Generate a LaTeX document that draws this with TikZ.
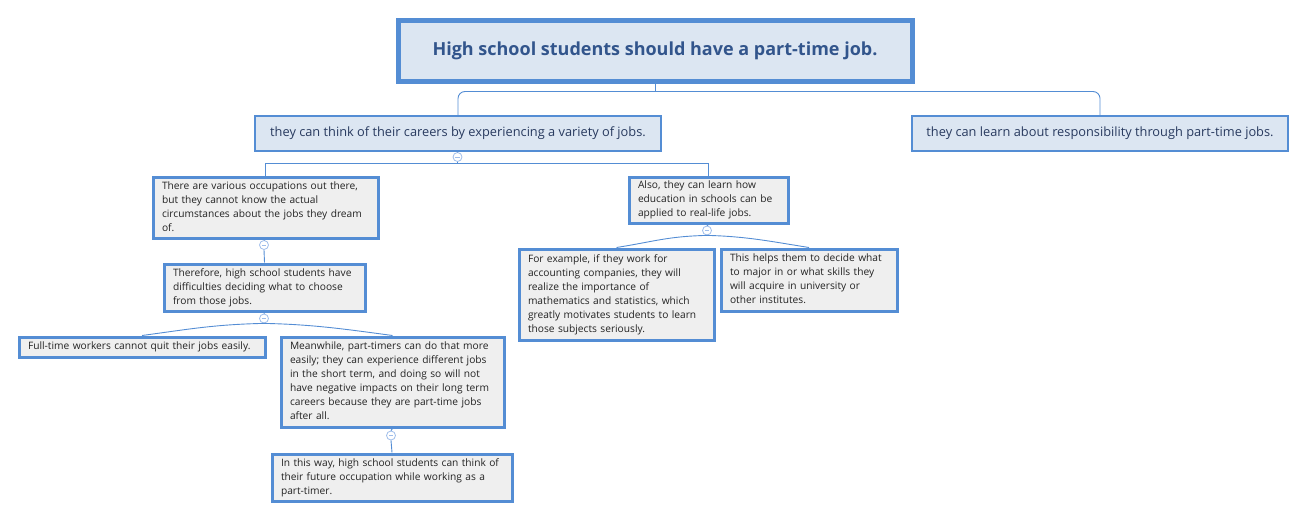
\documentclass[tikz,border=0pt]{standalone}
\usepackage{fontspec}
\setmainfont{Open Sans}
\definecolor{bblue}{RGB}{84,141,212}
\definecolor{lblue}{RGB}{220,230,242}
\definecolor{gfill}{RGB}{239,239,239}
\definecolor{roottext}{RGB}{50,85,140}
\definecolor{subtext}{RGB}{40,58,95}
\definecolor{gtext}{RGB}{35,35,35}
\definecolor{cblue}{RGB}{160,190,235}
\newcommand\mylines[1]{\begin{tabular}{@{}l@{}}#1\end{tabular}}
\begin{document}
\begin{tikzpicture}[x=1pt,y=-1pt,
  rootbox/.style={draw=bblue, line width=5pt, fill=lblue, anchor=north west, inner sep=0pt, align=center,
    text=roottext, font=\fontsize{18}{22}\selectfont\bfseries},
  subbox/.style={draw=bblue, line width=2pt, fill=lblue, anchor=north west, inner sep=0pt, align=center,
    text=subtext, font=\fontsize{12.8}{16}\selectfont},
  gbox/.style={draw=bblue, line width=3pt, fill=gfill, anchor=north west, inner xsep=9pt, inner ysep=0pt,
    align=left, text=gtext, font=\fontsize{10.2}{14}\selectfont},
  conn/.style={draw=bblue, line width=0.9pt},
  fold/.style={circle, draw=cblue, fill=white, line width=0.8pt, minimum size=9pt, inner sep=0pt,
    path picture={\draw[cblue, line width=0.8pt] ([xshift=-2.2pt]path picture bounding box.center) -- ([xshift=2.2pt]path picture bounding box.center);}}
]
\useasboundingbox (0,0) rectangle (1305,519);

% root and first level
\node[rootbox, minimum width=514, minimum height=60] (root) at (395.5,18.5) {High school students should have a part-time job.};
\node[subbox, minimum width=406, minimum height=35] (c1) at (254,115) {they can think of their careers by experiencing a variety of jobs.};
\node[subbox, minimum width=376, minimum height=35] (c2) at (911,115) {they can learn about responsibility through part-time jobs.};

% second level
\node[gbox, minimum width=225, minimum height=61, text width=207] (A) at (151.5,175.5)
  {\mylines{There are various occupations out there,\\but they cannot know the actual\\circumstances about the jobs they dream\\of.}};
\node[gbox, minimum width=159, minimum height=46, text width=141] (B) at (627.5,175.5)
  {\mylines{Also, they can learn how\\education in schools can be\\applied to real-life jobs.}};

% third level
\node[gbox, minimum width=201, minimum height=47, text width=183] (C) at (162.5,262.5)
  {\mylines{Therefore, high school students have\\difficulties deciding what to choose\\from those jobs.}};
\node[gbox, minimum width=195, minimum height=91, text width=177] (G) at (517.5,247.5)
  {\mylines{For example, if they work for\\accounting companies, they will\\realize the importance of\\mathematics and statistics, which\\greatly motivates students to learn\\those subjects seriously.}};
\node[gbox, minimum width=176, minimum height=62, text width=158] (H) at (719.5,247.5)
  {\mylines{This helps them to decide what\\to major in or what skills they\\will acquire in university or\\other institutes.}};

% fourth level
\node[gbox, minimum width=246, minimum height=20, text width=228] (D) at (17.5,335.5)
  {\mylines{Full-time workers cannot quit their jobs easily.}};
\node[gbox, minimum width=223, minimum height=90, text width=205] (E) at (279.5,335.5)
  {\mylines{Meanwhile, part-timers can do that more\\easily; they can experience different jobs\\in the short term, and doing so will not\\have negative impacts on their long term\\careers because they are part-time jobs\\after all.}};
\node[gbox, minimum width=240, minimum height=47, text width=222] (F) at (270.5,452.5)
  {\mylines{In this way, high school students can think of\\their future occupation while working as a\\part-timer.}};

% root connectors
\coordinate (j0) at ([yshift=-8pt]root.south);
\draw[conn] (root.south) -- (j0);
\draw[conn, rounded corners=7pt] (j0) -| (c1.north);
\draw[conn, rounded corners=7pt] (j0) -| (c2.north);

% c1 -> A, B
\node[fold] (f1) at (457.5,157) {};
\coordinate (j1) at (457.5,163);
\draw[conn] (c1.south) -- (f1.north);
\draw[conn] (f1.south) -- (j1);
\draw[conn] (j1) -| (A.north);
\draw[conn] (j1) -| (B.north);

% A -> C
\node[fold] (f2) at (264,245) {};
\draw[conn] (A.south) -- (f2.north);
\draw[conn] (f2.south) -- (C.north);

% C -> D, E
\node[fold] (f3) at (264,318.5) {};
\draw[conn] (C.south) -- (f3.north);
\draw[conn] (f3.south) .. controls +(-50,1) and +(45,-6) .. (D.north);
\draw[conn] (f3.south) .. controls +(50,1) and +(-45,-6) .. (E.north);

% E -> F
\node[fold] (f4) at (391,435.5) {};
\draw[conn] (E.south) -- (f4.north);
\draw[conn] (f4.south) -- (F.north);

% B -> G, H
\node[fold] (f5) at (707,230.5) {};
\draw[conn] (B.south) -- (f5.north);
\draw[conn] (f5.south) .. controls +(-40,1) and +(38,-6) .. (G.north);
\draw[conn] (f5.south) .. controls +(40,1) and +(-38,-6) .. (H.north);
\end{tikzpicture}
\end{document}
